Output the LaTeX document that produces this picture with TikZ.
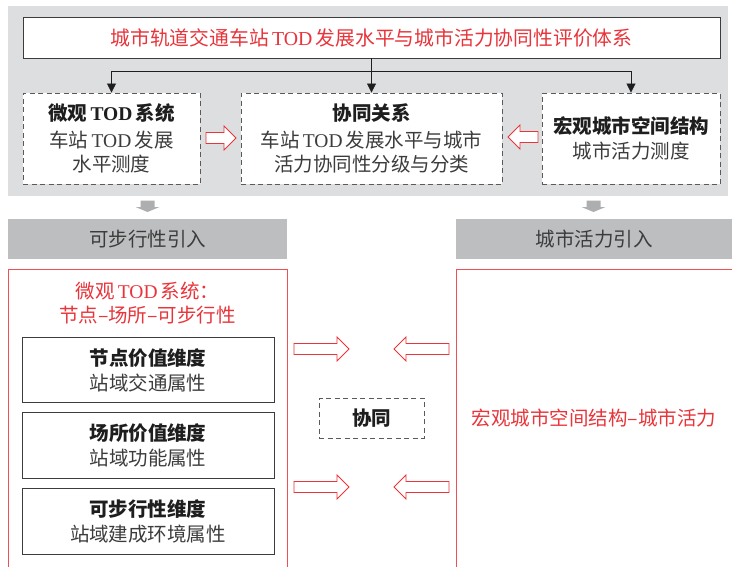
\documentclass[tikz,border=0pt]{standalone}
\usepackage{fontspec}
\setmainfont{Noto Sans CJK SC}
\newfontfamily\serlat{Liberation Serif}
\usetikzlibrary{arrows.meta}
\definecolor{bgG}{RGB}{221,222,224}
\definecolor{boxG}{RGB}{188,190,192}
\definecolor{arrG}{RGB}{172,174,176}
\definecolor{redT}{RGB}{232,52,58}
\definecolor{redL}{RGB}{238,80,86}
\definecolor{txtD}{RGB}{60,60,60}
\definecolor{txtB}{RGB}{30,30,30}
\definecolor{dashG}{RGB}{90,90,90}
\newcommand\myTOD{{\serlat TOD}}
\tikzset{
  base/.style={font=\fontsize{19.5}{24}\selectfont, text=txtD, align=center, inner sep=0pt},
  titlebox/.style={base, draw=txtD, fill=white, line width=0.9pt, text=redT,
    minimum width=697pt, minimum height=41pt, font=\fontsize{19.8}{24}\selectfont},
  dashbox/.style={base, draw=dashG, fill=white, line width=0.9pt, dash pattern=on 5pt off 3.5pt,
    minimum height=91pt},
  graybox/.style={base, fill=boxG, minimum height=40pt, text=txtD},
  dimbox/.style={base, draw=txtD, fill=white, line width=0.9pt, minimum width=252pt, minimum height=65.5pt},
  redline/.style={draw=redL, line width=0.9pt},
  conn/.style={draw=txtB, line width=0.8pt, -{Triangle[length=9pt,width=9pt]}},
  hollow/.style={draw=redT, fill=white, line width=0.8pt, line join=miter},
  pics/hollowarrow/.style={code={
    \path[hollow] (0,-5.5) -- ({#1-12},-5.5) -- ({#1-12},-12) -- (#1,0)
       -- ({#1-12},12) -- ({#1-12},5.5) -- (0,5.5) -- cycle;
  }},
  pics/grayarrow/.style={code={
    \fill[arrG] (-7,0) -- (7,0) -- (7,6.5) -- (12,6.5) -- (0,11.5) -- (-12,6.5) -- (-7,6.5) -- cycle;
  }}
}
\begin{document}
\begin{tikzpicture}[x=1pt,y=-1pt]
\useasboundingbox (0,0) rectangle (732,566);
% top gray panel
\fill[bgG] (8,6) rectangle (728,196);

\node[titlebox] (title) at (371.5,37.5) {城市轨道交通车站\,\myTOD\,发展水平与城市活力协同性评价体系};

\node[dashbox, minimum width=177pt] (micro) at (111.5,138.5)
  {{\bfseries\color{txtB}微观\,\myTOD\,系统}\\[3pt]车站\,\myTOD\,发展\\水平测度};
\node[dashbox, minimum width=261pt] (rel) at (371.5,138.5)
  {{\bfseries\color{txtB}协同关系}\\[3pt]车站\,\myTOD\,发展水平与城市\\活力协同性分级与分类};
\node[dashbox, minimum width=178pt] (macro) at (631,138.5)
  {{\bfseries\color{txtB}宏观城市空间结构}\\[1pt]城市活力测度};

\coordinate (j) at (title.south |- 0,71);
\draw[conn] (title.south) -- (rel.north);
\draw[conn] (j) -| (micro.north);
\draw[conn] (j) -| (macro.north);

\pic at (206,138) {hollowarrow=30};
\pic[rotate=180] at (538,137) {hollowarrow=30};

% lower part
\pic at (147.5,200.5) {grayarrow};
\pic at (593.5,200.5) {grayarrow};

\node[graybox, minimum width=279pt] (walk) at (147.5,239) {可步行性引入};
\node[graybox, minimum width=276pt] (vital) at (594,239) {城市活力引入};

\draw[redline] (8,570) -- (8,269) -- (287,269) -- (287,570);
\draw[redline] (456,570) -- (456,269) -- (740,269);

\node[base, text=redT] (lt) at (147.5,303) {微观\,\myTOD\,系统：\\节点–场所–可步行性};

\node[dimbox] (node) at (148,370)
  {{\bfseries\color{txtB}节点价值维度}\\[1pt]站域交通属性};
\node[dimbox] (place) at (148,445.5)
  {{\bfseries\color{txtB}场所价值维度}\\[1pt]站域功能属性};
\node[dimbox] (walkd) at (148,521.5)
  {{\bfseries\color{txtB}可步行性维度}\\[1pt]站域建成环境属性};

\node[base, draw=dashG, fill=white, line width=0.9pt, dash pattern=on 5pt off 3.5pt,
  minimum width=105pt, minimum height=40pt] (syn) at (371.5,418)
  {\bfseries\color{txtB}协同};

\node[base, text=redT] (rt) at (594,418) {宏观城市空间结构–城市活力};

\pic at (294,349) {hollowarrow=55};
\pic[rotate=180] at (449,349) {hollowarrow=55};
\pic at (294,487) {hollowarrow=55};
\pic[rotate=180] at (449,487) {hollowarrow=55};
\end{tikzpicture}
\end{document}
